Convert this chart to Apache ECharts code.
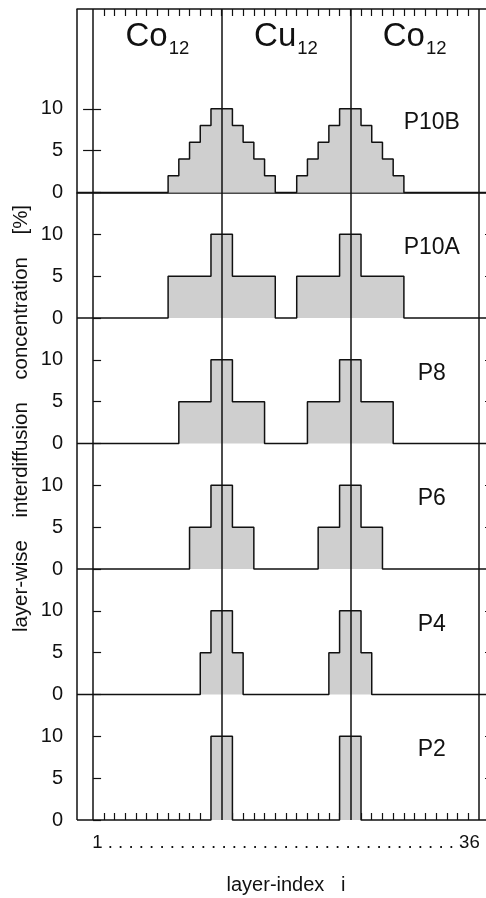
<!DOCTYPE html>
<html><head><meta charset="utf-8">
<script src="https://cdn.jsdelivr.net/npm/echarts@6/dist/echarts.min.js"></script>
<style>html,body{margin:0;padding:0;background:#fff}#c{width:486px;height:898px}</style>
</head><body><div id="c"></div>
<script>
// ---------- data ----------
const blockNames = ['Co', 'Cu', 'Co'];
const blockSizes = [12, 12, 12];
const panelNames = ['P10B', 'P10A', 'P8', 'P6', 'P4', 'P2'];
const P10B = [0,0,0,0,0,0,0,2,4,6,8,10,10,8,6,4,2,0,0,2,4,6,8,10,10,8,6,4,2,0,0,0,0,0,0,0];
const P10A = [0,0,0,0,0,0,0,5,5,5,5,10,10,5,5,5,5,0,0,5,5,5,5,10,10,5,5,5,5,0,0,0,0,0,0,0];
const P8   = [0,0,0,0,0,0,0,0,5,5,5,10,10,5,5,5,0,0,0,0,5,5,5,10,10,5,5,5,0,0,0,0,0,0,0,0];
const P6   = [0,0,0,0,0,0,0,0,0,5,5,10,10,5,5,0,0,0,0,0,0,5,5,10,10,5,5,0,0,0,0,0,0,0,0,0];
const P4   = [0,0,0,0,0,0,0,0,0,0,5,10,10,5,0,0,0,0,0,0,0,0,5,10,10,5,0,0,0,0,0,0,0,0,0,0];
const P2   = [0,0,0,0,0,0,0,0,0,0,0,10,10,0,0,0,0,0,0,0,0,0,0,10,10,0,0,0,0,0,0,0,0,0,0,0];
const panelValues = [P10B, P10A, P8, P6, P4, P2];
const yTickValues = [0, 5, 10];
const xEndLabels = ['1', '36'];
const blockSub = '12';

// ---------- layout / style ----------
const FONT = "'Liberation Sans', Arial, Helvetica, sans-serif";
const INK = '#111';
const FILL = '#cfcfcf';
const LW = 1.5;
const nLayers = blockSizes.reduce((a, b) => a + b, 0);
const XMIN = -1.5, XMAX = nLayers + 1.5;
const GL = 77, GW = 418, TOP = 9, HEAD_B = 67, PH = 125.5;
const YMAX = 15;
const FRAME_Y = [1, 2]; // dummy extent of the frame grid (does not cross zero)

const boundaries = [0];
blockSizes.forEach((s, i) => boundaries.push(boundaries[i] + s));
const frameVerticals = [XMIN].concat(boundaries);
const blockCenters = blockSizes.map((s, i) => boundaries[i] + s / 2);
const layerEdges = [];
for (let i = 1; i < nLayers; i++) layerEdges.push(i);

const gridBase = { left: GL, width: GW, containLabel: false, outerBoundsMode: 'none' };
const grids = [Object.assign({}, gridBase, { top: TOP, height: HEAD_B + PH * 6 - TOP })];
panelNames.forEach((_, k) => grids.push(Object.assign({}, gridBase, { top: HEAD_B + PH * k, height: PH })));

const xAxes = [
  { // frame top axis
    type: 'value', gridIndex: 0, position: 'top', min: XMIN, max: XMAX,
    axisLine: { show: true, lineStyle: { color: INK, width: LW } },
    axisTick: { show: true, inside: true, length: 7, customValues: layerEdges, lineStyle: { color: INK, width: 1.2 } },
    splitLine: { show: false },
    axisLabel: {
      show: true, inside: true, margin: 11, customValues: blockCenters,
      formatter: v => { const i = blockCenters.indexOf(v); return '{m|' + blockNames[i] + '}{s|' + blockSub + '}'; },
      rich: {
        m: { fontSize: 33, lineHeight: 33, verticalAlign: 'top', fontFamily: FONT, color: INK },
        s: { fontSize: 18.5, lineHeight: 18.5, verticalAlign: 'top', padding: [19, 0, 0, 1], fontFamily: FONT, color: INK }
      }
    }
  },
  { // frame bottom axis
    type: 'value', gridIndex: 0, position: 'bottom', min: XMIN, max: XMAX,
    axisLine: { show: false },
    axisTick: { show: true, inside: true, length: 7, customValues: layerEdges, lineStyle: { color: INK, width: 1.2 } },
    splitLine: { show: false },
    axisLabel: {
      show: true, margin: 13, customValues: [nLayers / 2],
      formatter: () => xEndLabels[0] + ' ' + Array(nLayers - 2).fill('.').join(' ') + ' ' + xEndLabels[1],
      fontSize: 18.6, fontFamily: FONT, color: INK
    },
    name: 'layer-index   i', nameLocation: 'middle', nameGap: 55,
    nameTextStyle: { fontSize: 20, fontFamily: FONT, color: INK }
  }
];
panelNames.forEach((_, k) => xAxes.push({
  type: 'value', gridIndex: k + 1, min: XMIN, max: XMAX, show: false
}));
xAxes.push({
  type: 'value', gridIndex: 1, position: 'top', min: XMIN, max: XMAX,
  axisLine: { show: true, lineStyle: { color: INK, width: LW } },
  axisTick: { show: false }, axisLabel: { show: false }, splitLine: { show: false }
});

// frame y axis: carries only the title
const yAxes = [{
  type: 'value', gridIndex: 0, position: 'left', min: FRAME_Y[0], max: FRAME_Y[1],
  axisLine: { show: false },
  axisTick: { show: false }, axisLabel: { show: false }, splitLine: { show: false },
  name: 'layer-wise    interdiffusion    concentration    [%]', nameLocation: 'middle', nameGap: 46, nameRotate: 90,
  nameTextStyle: { fontSize: 20.4, fontFamily: FONT, color: INK, padding: [0, 8, 0, 0] }
}];
panelNames.forEach((_, k) => yAxes.push({
  type: 'value', gridIndex: k + 1, position: 'left', min: 0, max: YMAX,
  axisLine: { show: false },
  axisTick: { show: true, inside: true, length: 8, customValues: yTickValues, lineStyle: { color: INK, width: 1.2 } },
  axisLabel: { show: true, margin: 14, customValues: yTickValues, fontSize: 20, fontFamily: FONT, color: INK },
  splitLine: { show: false }
}));
panelNames.forEach((_, k) => yAxes.push({
  type: 'value', gridIndex: k + 1, position: 'right', min: 0, max: YMAX,
  axisLine: { show: false },
  axisTick: { show: true, inside: true, length: 10, customValues: yTickValues.slice(1), lineStyle: { color: INK, width: 1.2 } },
  axisLabel: { show: false }, splitLine: { show: false }
}));

const series = panelValues.map((vals, k) => {
  const pts = [[XMIN, 0]];
  vals.forEach((v, i) => pts.push([i, v]));
  pts.push([nLayers, vals[nLayers - 1]]);
  pts.push([XMAX, 0]);
  return {
    type: 'line', name: panelNames[k], xAxisIndex: k + 2, yAxisIndex: k + 1,
    step: 'end', data: pts, symbol: 'none', clip: false, z: 2, silent: true,
    lineStyle: { color: INK, width: LW }, areaStyle: { color: FILL, opacity: 1, origin: 'start' }
  };
});
// frame left edge and block boundary lines spanning the whole frame
series.push({
  type: 'line', xAxisIndex: 0, yAxisIndex: 0, data: [], z: 10, silent: true,
  markLine: {
    silent: true, symbol: 'none', z: 10, label: { show: false },
    lineStyle: { color: INK, width: LW, type: 'solid' },
    data: frameVerticals.map(b => [{ coord: [b, FRAME_Y[0]] }, { coord: [b, FRAME_Y[1]] }])
  }
});

const chart = echarts.init(document.getElementById('c'), null, { renderer: 'canvas' });
chart.setOption({ animation: false, backgroundColor: '#fff', grid: grids, xAxis: xAxes, yAxis: yAxes, series });

const labelX = 31.6, labelY = 8.4;
chart.setOption({
  graphic: panelNames.map((n, k) => ({
    type: 'text',
    x: chart.convertToPixel({ xAxisIndex: k + 2 }, labelX),
    y: chart.convertToPixel({ yAxisIndex: k + 1 }, labelY),
    style: { text: n, fontSize: 23, fontFamily: FONT, fill: INK, align: 'center', verticalAlign: 'middle' }
  }))
});
</script></body></html>
